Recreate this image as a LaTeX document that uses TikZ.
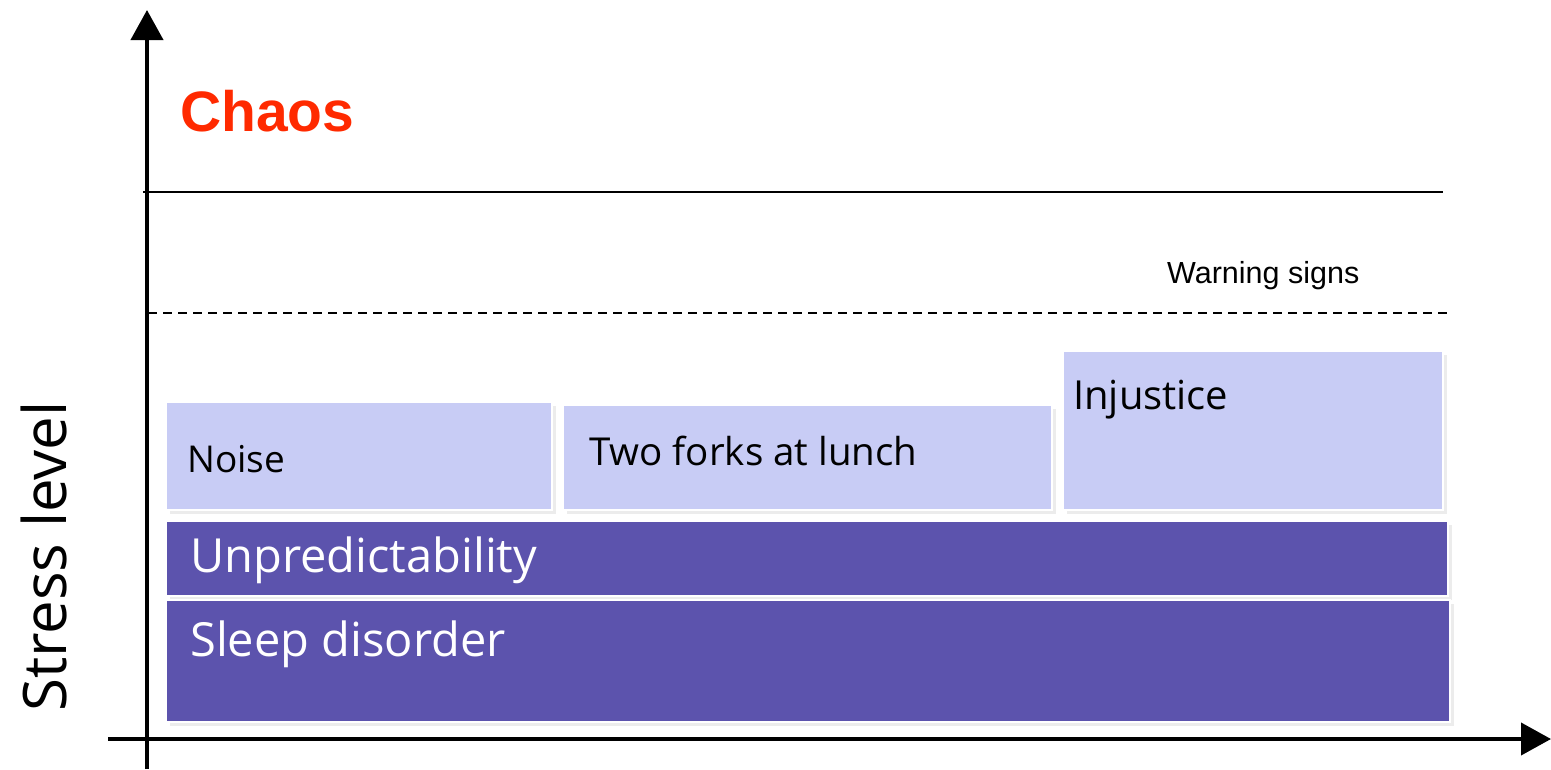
\documentclass[tikz,border=0pt]{standalone}
\usepackage{fontspec}
\setmainfont{Open Sans}
\newfontfamily\arialfont{Liberation Sans}
\usetikzlibrary{arrows.meta,shadows}
\definecolor{lightbox}{HTML}{C8CCF5}
\definecolor{darkbox}{HTML}{5C53AD}
\definecolor{chaosred}{HTML}{FF2A00}
\tikzset{
  axis/.style={line width=4pt, -{Triangle[length=30pt,width=32pt]}},
  shadowed/.style={drop shadow={opacity=0.15, shadow xshift=4pt, shadow yshift=-4pt}},
  lbox/.style={draw=white, line width=2pt, fill=lightbox, shadowed, anchor=north west, inner sep=0pt, outer sep=0pt},
  dbox/.style={draw=white, line width=2pt, fill=darkbox, shadowed, anchor=north west, inner sep=0pt, outer sep=0pt},
  lbl/.style={anchor=base west, inner sep=0pt, font=\fontsize{38.5}{42}\selectfont},
  wlbl/.style={lbl, text=white, font=\fontsize{47}{50}\selectfont},
}
\begin{document}
\begin{tikzpicture}[x=1pt,y=-1pt]
\useasboundingbox (0,0) rectangle (1551,769);
% boxes
\node[lbox, minimum width=386pt, minimum height=108pt] (noise) at (166,402) {};
\node[lbox, minimum width=489pt, minimum height=105pt] (forks) at (563,405) {};
\node[lbox, minimum width=380pt, minimum height=159pt] (injustice) at (1063,351) {};
\node[dbox, minimum width=1282pt, minimum height=75pt] (unpred) at (166,521) {};
\node[dbox, minimum width=1284pt, minimum height=122pt] (sleep) at (166,600) {};
% labels
\node[lbl, font=\fontsize{37}{40}\selectfont] (tnoise) at (187,472) {Noise};
\node[lbl] (tforks) at (589,465) {Two forks at lunch};
\node[lbl, font=\fontsize{40}{44}\selectfont] (tinj) at (1073,409) {Injustice};
\node[wlbl] (tunpred) at (190,572) {Unpredictability};
\node[wlbl] (tsleep) at (190,656) {Sleep disorder};
% lines
\coordinate (c1) at (143,192);
\coordinate (c2) at (1443,192);
\draw[line width=2pt] (c1) -- (c2);
\coordinate (d1) at (148,313);
\coordinate (d2) at (1452,313);
\draw[line width=1.5pt, dash pattern=on 9pt off 6pt] (d1) -- (d2);
\node[anchor=base west, inner sep=0pt, font=\arialfont\fontsize{30.5}{33}\selectfont] (warn) at (1167,283) {Warning signs};
\node[anchor=base west, inner sep=0pt, text=chaosred, font=\arialfont\bfseries\fontsize{57}{60}\selectfont] (chaos) at (180,131) {Chaos};
% axes
\coordinate (yb) at (147,769);
\coordinate (yt) at (147,10);
\coordinate (xl) at (108,739);
\coordinate (xr) at (1551,739);
\draw[axis] (yb) -- (yt);
\draw[axis] (xl) -- (xr);
\node[rotate=90, anchor=base west, inner sep=0pt, font=\fontsize{60}{64}\selectfont] (ylabel) at (66,712) {Stress level};
\end{tikzpicture}
\end{document}
